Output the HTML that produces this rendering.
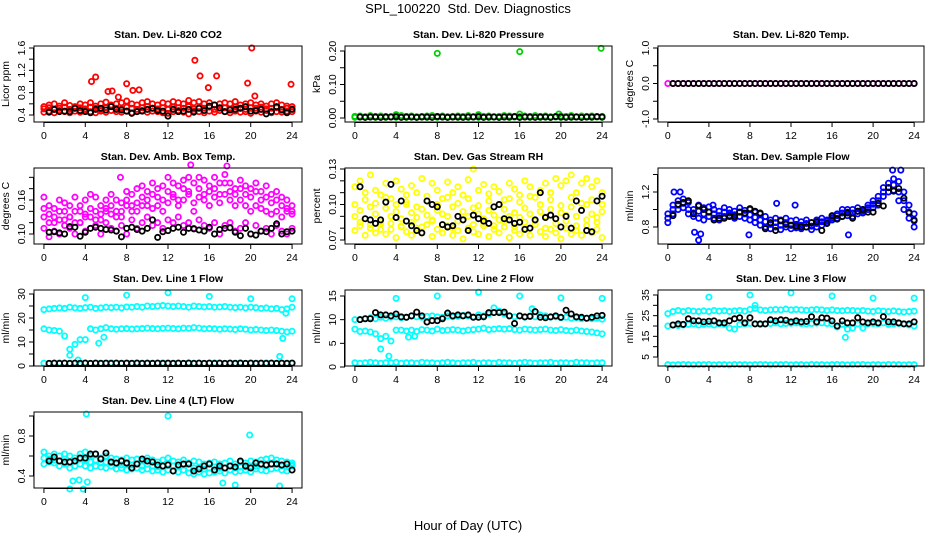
<!DOCTYPE html>
<html><head><meta charset="utf-8"><title>SPL_100220 Std. Dev. Diagnostics</title>
<style>
html,body{margin:0;padding:0;background:#fff;}
svg{display:block;font-family:"Liberation Sans",Arial,sans-serif;}
.pt{fill:none;stroke-width:1.8;}
.ttl{font-weight:bold;font-size:10.5px;}
.tk{font-size:10.5px;}
</style></head>
<body>
<svg id="chart" width="936" height="540" viewBox="0 0 936 540" xmlns="http://www.w3.org/2000/svg">
<text x="468" y="13" text-anchor="middle" font-size="13" xml:space="preserve">SPL_100220  Std. Dev. Diagnostics</text>
<text x="468" y="530" text-anchor="middle" font-size="13">Hour of Day (UTC)</text>
</svg>
<script>
// ---- data (hours on 0.5 h grid; bands at 0..24, black at 0.5..24) ----
const xTicks=[0,4,8,12,16,20,24];
const co2A=[0.55,0.58,0.6,0.56,0.62,0.57,0.55,0.6,0.58,0.62,0.56,0.6,0.63,0.58,0.6,0.62,0.65,0.6,0.58,0.62,0.64,0.6,0.58,0.62,0.6,0.64,0.62,0.6,0.66,0.62,0.64,0.6,0.62,0.58,0.6,0.62,0.6,0.64,0.58,0.6,0.62,0.58,0.6,0.56,0.6,0.62,0.58,0.56,0.55];
const co2B=[0.45,0.47,0.44,0.48,0.46,0.44,0.47,0.45,0.48,0.46,0.44,0.47,0.45,0.48,0.46,0.45,0.47,0.44,0.46,0.48,0.45,0.47,0.46,0.44,0.43,0.46,0.48,0.45,0.42,0.47,0.46,0.44,0.47,0.45,0.48,0.46,0.44,0.47,0.45,0.46,0.43,0.47,0.45,0.48,0.44,0.46,0.45,0.47,0.46];
const co2C=[0.51,0.53,0.5,0.52,0.54,0.5,0.52,0.53,0.51,0.54,0.52,0.5,0.53,0.55,0.52,0.51,0.54,0.52,0.5,0.53,0.55,0.52,0.51,0.53,0.5,0.54,0.53,0.52,0.55,0.51,0.53,0.52,0.54,0.5,0.52,0.53,0.51,0.54,0.52,0.5,0.53,0.52,0.54,0.51,0.52,0.53,0.5,0.52,0.51];
const co2OutH=[4.6,5.0,6.2,6.6,7.2,8.0,8.6,9.2,14.6,15.1,15.9,16.7,19.7,20.1,20.4,23.9];
const co2OutV=[1.0,1.08,0.82,0.83,0.72,0.96,0.84,0.85,1.38,1.1,0.89,1.1,0.97,1.6,0.74,0.95];
const co2Black=[0.45,0.5,0.46,0.47,0.46,0.52,0.48,0.46,0.44,0.5,0.52,0.49,0.55,0.5,0.49,0.47,0.43,0.46,0.47,0.5,0.52,0.48,0.47,0.38,0.5,0.46,0.47,0.5,0.45,0.52,0.48,0.56,0.58,0.53,0.46,0.49,0.5,0.52,0.55,0.47,0.48,0.5,0.42,0.46,0.55,0.49,0.44,0.5];

const presA=[0.005,0.006,0.004,0.007,0.005,0.006,0.005,0.004,0.006,0.007,0.005,0.006,0.004,0.005,0.006,0.007,0.005,0.006,0.004,0.005,0.006,0.005,0.007,0.004,0.006,0.005,0.006,0.004,0.005,0.007,0.006,0.005,0.004,0.006,0.005,0.007,0.005,0.006,0.004,0.005,0.006,0.005,0.007,0.004,0.006,0.005,0.006,0.004,0.005];
const presB=[0.002,0.003,0.002,0.003,0.002,0.003,0.002,0.003,0.002,0.003,0.002,0.003,0.002,0.003,0.002,0.003,0.002,0.003,0.002,0.003,0.002,0.003,0.002,0.003,0.002,0.003,0.002,0.003,0.002,0.003,0.002,0.003,0.002,0.003,0.002,0.003,0.002,0.003,0.002,0.003,0.002,0.003,0.002,0.003,0.002,0.003,0.002,0.003,0.002];
const presOutH=[8.0,16.0,23.9,4.0,12.0,16.0,19.8];
const presOutV=[0.193,0.198,0.208,0.01,0.01,0.012,0.012];
const presBlack=[0.003,0.002,0.003,0.003,0.002,0.003,0.003,0.004,0.002,0.003,0.003,0.002,0.003,0.003,0.002,0.004,0.003,0.002,0.003,0.003,0.002,0.003,0.003,0.004,0.002,0.003,0.003,0.002,0.003,0.003,0.004,0.002,0.003,0.003,0.002,0.003,0.003,0.002,0.004,0.003,0.002,0.003,0.003,0.002,0.003,0.003,0.004,0.003];

const tempA=[0,0,0,0,0,0,0,0,0,0,0,0,0,0,0,0,0,0,0,0,0,0,0,0,0,0,0,0,0,0,0,0,0,0,0,0,0,0,0,0,0,0,0,0,0,0,0,0,0];
const tempBlack=[0,0,0,0,0,0,0,0,0,0,0,0,0,0,0,0,0,0,0,0,0,0,0,0,0,0,0,0,0,0,0,0,0,0,0,0,0,0,0,0,0,0,0,0,0,0,0,0];

const ambA=[0.165,0.15,0.145,0.16,0.155,0.15,0.165,0.14,0.16,0.17,0.165,0.15,0.16,0.17,0.16,0.155,0.175,0.17,0.18,0.185,0.175,0.19,0.18,0.185,0.2,0.19,0.185,0.195,0.2,0.19,0.2,0.195,0.185,0.2,0.19,0.205,0.19,0.18,0.195,0.185,0.18,0.19,0.175,0.185,0.17,0.175,0.165,0.16,0.15];
const ambB=[0.13,0.135,0.12,0.14,0.125,0.13,0.14,0.12,0.135,0.13,0.14,0.125,0.145,0.135,0.14,0.13,0.15,0.14,0.155,0.15,0.16,0.145,0.15,0.16,0.155,0.165,0.15,0.16,0.17,0.155,0.165,0.16,0.15,0.165,0.155,0.17,0.16,0.15,0.16,0.15,0.14,0.15,0.145,0.14,0.135,0.14,0.13,0.14,0.135];
const ambC=[0.11,0.095,0.105,0.1,0.115,0.11,0.1,0.12,0.105,0.11,0.115,0.1,0.12,0.11,0.105,0.115,0.1,0.125,0.11,0.12,0.13,0.115,0.12,0.11,0.125,0.12,0.13,0.115,0.12,0.11,0.125,0.115,0.11,0.12,0.1,0.115,0.12,0.105,0.11,0.12,0.1,0.115,0.105,0.11,0.1,0.115,0.105,0.1,0.11];
const ambD=[0.145,0.12,0.13,0.125,0.14,0.13,0.12,0.15,0.13,0.145,0.125,0.135,0.14,0.15,0.13,0.14,0.16,0.15,0.14,0.165,0.15,0.17,0.165,0.14,0.175,0.17,0.16,0.18,0.175,0.14,0.18,0.17,0.175,0.18,0.17,0.19,0.175,0.17,0.18,0.17,0.165,0.175,0.16,0.165,0.155,0.16,0.15,0.145,0.14];
const ambOutH=[7.4,14.2,17.7];
const ambOutV=[0.2,0.222,0.22];
const ambBlack=[0.103,0.104,0.102,0.1,0.113,0.112,0.096,0.103,0.11,0.112,0.11,0.108,0.107,0.105,0.095,0.11,0.112,0.108,0.105,0.11,0.125,0.094,0.104,0.106,0.11,0.112,0.103,0.11,0.109,0.107,0.105,0.112,0.1,0.108,0.11,0.111,0.103,0.097,0.11,0.1,0.098,0.105,0.104,0.11,0.118,0.1,0.104,0.105];

const rhA=[0.115,0.12,0.11,0.125,0.112,0.108,0.118,0.105,0.12,0.113,0.102,0.116,0.11,0.122,0.107,0.118,0.112,0.105,0.119,0.11,0.115,0.108,0.121,0.13,0.112,0.117,0.109,0.115,0.111,0.104,0.118,0.113,0.108,0.12,0.115,0.106,0.112,0.118,0.11,0.122,0.116,0.12,0.125,0.11,0.118,0.122,0.115,0.12,0.11];
const rhB=[0.09,0.095,0.088,0.098,0.092,0.085,0.097,0.09,0.094,0.088,0.1,0.093,0.089,0.096,0.091,0.087,0.095,0.092,0.09,0.098,0.086,0.094,0.09,0.097,0.092,0.088,0.095,0.091,0.087,0.096,0.09,0.093,0.089,0.097,0.092,0.086,0.094,0.09,0.096,0.088,0.093,0.091,0.098,0.09,0.095,0.1,0.092,0.089,0.094];
const rhC=[0.078,0.082,0.074,0.08,0.076,0.083,0.075,0.079,0.072,0.081,0.077,0.074,0.08,0.076,0.083,0.073,0.079,0.076,0.082,0.074,0.078,0.071,0.08,0.077,0.075,0.082,0.073,0.079,0.076,0.081,0.072,0.078,0.075,0.08,0.074,0.083,0.077,0.073,0.079,0.076,0.071,0.08,0.075,0.078,0.074,0.082,0.076,0.079,0.072];
const rhD=[0.1,0.085,0.104,0.083,0.101,0.079,0.106,0.084,0.1,0.082,0.108,0.085,0.098,0.081,0.103,0.086,0.1,0.083,0.106,0.08,0.101,0.087,0.105,0.083,0.099,0.084,0.103,0.082,0.1,0.086,0.105,0.081,0.102,0.085,0.107,0.083,0.1,0.08,0.104,0.084,0.099,0.086,0.106,0.082,0.101,0.087,0.104,0.085,0.1];
const rhBlack=[0.115,0.088,0.087,0.084,0.087,0.102,0.117,0.089,0.103,0.086,0.082,0.078,0.076,0.103,0.1,0.098,0.083,0.081,0.082,0.09,0.087,0.078,0.091,0.088,0.086,0.084,0.098,0.1,0.088,0.087,0.084,0.085,0.079,0.08,0.087,0.11,0.089,0.091,0.088,0.081,0.09,0.08,0.103,0.095,0.078,0.077,0.103,0.107];

const sfA=[0.95,1.05,1.1,1.12,1.08,1.0,1.05,1.02,1.03,1.0,0.98,1.02,1.0,0.98,1.02,0.99,1.0,0.97,0.95,0.92,0.88,0.9,0.88,0.9,0.87,0.88,0.86,0.88,0.85,0.88,0.9,0.88,0.92,0.95,1.0,1.0,1.0,1.02,1.0,1.05,1.1,1.15,1.25,1.3,1.35,1.32,1.2,1.05,0.95];
const sfB=[0.85,0.95,1.0,1.02,0.95,0.92,0.9,0.88,0.92,0.9,0.88,0.92,0.93,0.9,0.92,0.9,0.88,0.85,0.82,0.8,0.78,0.8,0.77,0.8,0.78,0.79,0.78,0.8,0.77,0.8,0.82,0.85,0.88,0.9,0.92,0.93,0.92,0.95,0.96,1.0,1.02,1.05,1.15,1.2,1.22,1.1,1.0,0.9,0.8];
const sfC=[0.9,1.0,1.05,1.07,1.0,0.96,0.98,0.95,0.97,0.95,0.93,0.97,0.96,0.94,0.97,0.95,0.94,0.91,0.88,0.86,0.83,0.85,0.82,0.85,0.82,0.83,0.82,0.84,0.81,0.84,0.86,0.87,0.9,0.93,0.96,0.97,0.96,0.98,0.98,1.02,1.06,1.1,1.2,1.25,1.28,1.2,1.1,0.97,0.87];
const sfOutH=[0.6,1.2,2.6,3.2,4.4,7.9,10.6,12.4,17.6,21.9,22.7,3.0];
const sfOutV=[1.2,1.2,0.74,0.72,1.05,0.71,1.07,1.05,0.71,1.45,1.45,0.65];
const sfBlack=[0.93,1.06,1.08,1.1,0.95,1.04,1.0,0.97,0.88,0.9,0.9,0.92,0.92,0.97,0.96,1.01,0.98,0.96,0.78,0.85,0.76,0.87,0.83,0.82,0.81,0.8,0.8,0.85,0.86,0.76,0.84,0.93,0.89,0.92,0.96,0.9,0.98,1.0,0.97,0.97,1.07,1.04,1.25,1.21,1.24,1.13,0.96,0.88];

const l1A=[23.5,23.8,24,24.2,24,24.5,24.2,24,24.3,24.5,24,24.2,24.5,24.3,24.5,24.2,24.6,24.5,24.8,24.5,25,24.8,25,25.2,25,24.8,25,24.8,24.5,25,24.8,24.6,24.8,24.5,24.6,24.8,24.5,24.3,24.5,24.2,24.5,24.3,24,24.2,23.8,24,23.5,23.8,24.5];
const l1B=[15.5,15,14.8,14.5,12.5,7,9,11,11,15.5,15,15.5,16,15.5,15.3,15.5,15.6,15.4,15.5,15.6,15.8,15.6,15.5,15.7,15.8,15.6,15.5,15.8,15.7,16,15.8,15.5,15.6,15.5,15.3,15.5,15.4,15.2,15.5,15.3,15,15.2,15,14.8,15,14.8,14.5,14.2,14.5];
const l1C=[1.2,1.1,1.2,1.3,1.2,1.1,1.2,1.2,1.3,1.1,1.2,1.2,1.1,1.3,1.2,1.2,1.1,1.2,1.3,1.2,1.1,1.2,1.2,1.3,1.1,1.2,1.2,1.1,1.3,1.2,1.2,1.1,1.2,1.3,1.2,1.1,1.2,1.2,1.3,1.1,1.2,1.2,1.1,1.3,1.2,1.2,1.1,1.2,1.2];
const l1OutH=[4.0,8.0,12.0,16.0,20.0,24.0,2.5,3.3,22.8,5.3,5.8,23.4,23.1];
const l1OutV=[28.5,29.5,30.5,29,28,28,4.5,2.5,4,9.5,12,22,11.5];
const l1Black=[1.1,1.2,1.1,1.2,1.1,1.2,1.1,1.2,1.1,1.2,1.1,1.2,1.1,1.2,1.1,1.2,1.1,1.2,1.1,1.2,1.1,1.2,1.1,1.2,1.1,1.2,1.1,1.2,1.1,1.2,1.1,1.2,1.1,1.2,1.1,1.2,1.1,1.2,1.1,1.2,1.1,1.2,1.1,1.2,1.1,1.2,1.1,1.2];

const l2A=[10,10,10.2,10.4,10.2,10.5,10.3,10.5,10.6,10.4,10.5,10.8,10.6,10.5,10.7,10.8,10.6,10.5,10.8,10.6,10.7,10.9,10.8,10.6,11,10.8,11.2,11.5,11.8,11.2,10.8,10.6,10.8,10.5,10.8,10.6,11,10.8,10.5,10.6,10.4,10.5,10.3,10.4,10.2,10.3,10.2,10.3,10.1];
const l2B=[8,7.5,7.6,7.4,7,6,6.5,5.5,7.8,7.8,7.6,7.8,7.5,7.9,7.8,7.6,8,7.7,7.8,7.9,7.8,7.6,7.8,7.9,8,8.2,7.9,8,8.1,8,8.1,7.9,7.8,8,7.9,7.8,7.9,8,7.8,7.7,7.9,7.7,7.6,7.8,7.6,7.5,7.4,7.2,7];
const l2C=[0.9,0.8,0.9,1.0,0.9,0.8,0.9,0.9,1.0,0.8,0.9,0.9,0.8,1.0,0.9,0.9,0.8,0.9,1.0,0.9,0.8,0.9,0.9,1.0,0.8,0.9,0.9,0.8,1.0,0.9,0.9,0.8,0.9,1.0,0.9,0.8,0.9,0.9,1.0,0.8,0.9,0.9,0.8,1.0,0.9,0.9,0.8,0.9,0.9];
const l2OutH=[4.0,8.0,12.0,16.0,20.0,24.0,2.5,3.3,5.2,5.8,13.5,17.2];
const l2OutV=[14.5,15,15.8,15,14.6,14.5,3.8,2.3,6.3,6.5,12.5,12.3];
const l2Black=[10,10.2,10.2,11.5,11,11,10.8,11.2,10.6,10.5,10.8,11.6,10.8,9.5,9.8,9.8,10.2,11.4,10.8,11,10.8,11,10.5,10.5,10.6,11.5,11.5,11.5,11.6,10.8,9.2,10.8,10.6,10.7,11.7,10.5,10.4,10.6,10.8,10.5,12,11.2,10.6,10.5,10.3,10.5,10.8,10.9];

const l3A=[26,27,27.5,27,27.5,27.2,27,27.3,27,27.5,27.2,27.4,27,27.3,27.5,27.2,28,28.5,27.8,27.5,27.8,28,27.8,28.2,27.8,28,27.8,27.6,27.8,28,27.8,27.5,27.8,27.5,27.4,27.6,27.5,27.3,27.5,27.2,27,27.4,27.2,27,27.3,27,26.8,27,27.2];
const l3B=[20,20.5,20.2,20.5,20.8,21,20.5,20.8,21,20.5,21,20.8,19,18.5,20.8,21,21.2,21,20.8,21,21.2,21.5,21,21.2,21.3,21.5,21.2,21,21.2,21.4,21.5,21.2,21,19.5,20.8,18.5,19,21,19,21,21.2,21,21.5,20.8,21,21.2,21,20.5,20];
const l3C=[1.3,1.2,1.3,1.4,1.3,1.2,1.3,1.3,1.4,1.2,1.3,1.3,1.2,1.4,1.3,1.3,1.2,1.3,1.4,1.3,1.2,1.3,1.3,1.4,1.2,1.3,1.3,1.2,1.4,1.3,1.3,1.2,1.3,1.4,1.3,1.2,1.3,1.3,1.4,1.2,1.3,1.3,1.2,1.4,1.3,1.3,1.2,1.3,1.3];
const l3OutH=[4.0,8.0,12.0,16.0,20.0,24.0,17.3,8.5];
const l3OutV=[34,35,36,34.5,33.5,33.5,14.5,30];
const l3Black=[20.5,21,20.8,23.5,22.5,22.5,22,22.3,22.5,21.5,21.5,22.5,23.5,24,21.5,24,21,21,21,23,22.5,23,22.8,22,22.5,22,22.2,24.5,22,24,23.8,22.5,20,22.5,21.5,21.5,24,22,21.5,22,21.5,24.5,22,22,21.5,21,21,22];

const l4A=[0.64,0.6,0.62,0.6,0.62,0.6,0.58,0.62,0.64,0.6,0.62,0.58,0.6,0.58,0.57,0.56,0.58,0.56,0.57,0.55,0.58,0.56,0.54,0.56,0.58,0.55,0.54,0.56,0.53,0.55,0.54,0.52,0.53,0.54,0.52,0.53,0.55,0.52,0.54,0.53,0.55,0.54,0.56,0.57,0.58,0.56,0.55,0.54,0.53];
const l4B=[0.52,0.54,0.53,0.5,0.52,0.48,0.5,0.52,0.5,0.48,0.5,0.49,0.48,0.5,0.47,0.48,0.46,0.47,0.48,0.46,0.47,0.45,0.46,0.44,0.46,0.45,0.44,0.46,0.43,0.42,0.44,0.42,0.43,0.44,0.45,0.43,0.46,0.44,0.45,0.46,0.44,0.47,0.46,0.45,0.47,0.48,0.46,0.45,0.5];
const l4C=[0.58,0.57,0.56,0.55,0.57,0.54,0.55,0.57,0.56,0.54,0.56,0.53,0.54,0.53,0.52,0.51,0.52,0.51,0.52,0.5,0.52,0.5,0.49,0.5,0.52,0.5,0.49,0.51,0.48,0.48,0.49,0.47,0.48,0.49,0.48,0.48,0.5,0.48,0.49,0.49,0.5,0.5,0.51,0.51,0.52,0.52,0.5,0.49,0.51];
const l4OutH=[4.1,12.0,19.9,2.5,3.8,2.8,3.4,4.2,22.8,18.5,17.3];
const l4OutV=[1.02,1.0,0.81,0.27,0.27,0.35,0.36,0.34,0.3,0.31,0.33];
const l4Black=[0.55,0.59,0.55,0.54,0.54,0.55,0.58,0.58,0.62,0.62,0.57,0.63,0.54,0.53,0.55,0.53,0.48,0.52,0.57,0.55,0.54,0.51,0.5,0.51,0.45,0.51,0.52,0.52,0.45,0.47,0.5,0.52,0.46,0.5,0.48,0.5,0.49,0.55,0.5,0.48,0.53,0.52,0.51,0.52,0.52,0.51,0.52,0.46];

// ---- layout ----
const NS="http://www.w3.org/2000/svg";
const svg=document.getElementById('chart');
const colL=[34,345,658], colW=[268,267,266];
const rowT=[46,168,290,412], H=76;
const R=2.6;
function mk(tag,attrs,parent){const e=document.createElementNS(NS,tag);for(const k in attrs)e.setAttribute(k,attrs[k]);(parent||svg).appendChild(e);return e;}

const panels=[
 {name:'co2',title:'Stan. Dev. Li-820 CO2',ylab:'Licor ppm',c:0,r:0,ref:[0.4,115,1.6,48],ticks:[0.4,0.6,0.8,1.0,1.2,1.4,1.6],labels:[0.4,0.8,1.2,1.6],dec:1,col:'#ff0000',bands:[co2A,co2B,co2C],oh:co2OutH,ov:co2OutV,black:co2Black},
 {name:'pressure',title:'Stan. Dev. Li-820 Pressure',ylab:'kPa',c:1,r:0,ref:[0,118,0.2,51],ticks:[0,0.05,0.1,0.15,0.2],labels:[0,0.1,0.2],dec:2,col:'#00d000',bands:[presA,presB],oh:presOutH,ov:presOutV,black:presBlack},
 {name:'temp',title:'Stan. Dev. Li-820 Temp.',ylab:'degrees C',c:2,r:0,ref:[-1,119,1,48],ticks:[-1,-0.5,0,0.5,1],labels:[-1,0,1],dec:1,col:'#ff00ff',bands:[tempA],oh:[],ov:[],black:tempBlack},
 {name:'amb-box-temp',title:'Stan. Dev. Amb. Box Temp.',ylab:'degrees C',c:0,r:1,ref:[0.1,234,0.16,200],ticks:[0.1,0.12,0.14,0.16,0.18,0.2],labels:[0.1,0.16],dec:2,col:'#ff00ff',bands:[ambA,ambB,ambC,ambD],oh:ambOutH,ov:ambOutV,black:ambBlack},
 {name:'gas-stream-rh',title:'Stan. Dev. Gas Stream RH',ylab:'percent',c:1,r:1,ref:[0.07,240,0.13,169],ticks:[0.07,0.08,0.09,0.1,0.11,0.12,0.13],labels:[0.07,0.1,0.13],dec:2,col:'#ffff00',bands:[rhA,rhB,rhC,rhD],oh:[],ov:[],black:rhBlack},
 {name:'sample-flow',title:'Stan. Dev. Sample Flow',ylab:'ml/min',c:2,r:1,ref:[0.8,227,1.2,192],ticks:[0.8,1.0,1.2,1.4],labels:[0.8,1.2],dec:1,col:'#0000ff',bands:[sfA,sfB,sfC],oh:sfOutH,ov:sfOutV,black:sfBlack},
 {name:'line1-flow',title:'Stan. Dev. Line 1 Flow',ylab:'ml/min',c:0,r:2,ref:[0,366,30,294],ticks:[0,5,10,15,20,25,30],labels:[0,10,20,30],dec:0,col:'#00ffff',bands:[l1A,l1B,l1C],oh:l1OutH,ov:l1OutV,black:l1Black},
 {name:'line2-flow',title:'Stan. Dev. Line 2 Flow',ylab:'ml/min',c:1,r:2,ref:[0,367,15,296],ticks:[0,5,10,15],labels:[0,5,10,15],dec:0,col:'#00ffff',bands:[l2A,l2B,l2C],oh:l2OutH,ov:l2OutV,black:l2Black},
 {name:'line3-flow',title:'Stan. Dev. Line 3 Flow',ylab:'ml/min',c:2,r:2,ref:[5,357,35,295],ticks:[5,10,15,20,25,30,35],labels:[5,15,25,35],dec:0,col:'#00ffff',bands:[l3A,l3B,l3C],oh:l3OutH,ov:l3OutV,black:l3Black},
 {name:'line4-flow',title:'Stan. Dev. Line 4 (LT) Flow',ylab:'ml/min',c:0,r:3,ref:[0.4,476,0.8,436],ticks:[0.4,0.6,0.8,1.0],labels:[0.4,0.8],dec:1,col:'#00ffff',bands:[l4A,l4B,l4C],oh:l4OutH,ov:l4OutV,black:l4Black}
];

panels.forEach(p=>{
  const L=colL[p.c], W=colW[p.c], T=rowT[p.r], B=T+H;
  const xs=h=>L+(h+0.96)/25.92*W;
  const ys=v=>p.ref[1]+(v-p.ref[0])*(p.ref[3]-p.ref[1])/(p.ref[2]-p.ref[0]);
  const g=mk('g',{});
  
  
  const t=mk('text',{x:L+W/2,y:T-8,'text-anchor':'middle','class':'ttl'},g);
  
  
  t.textContent=p.title;
  const pg=mk('g',{},g);
  
  
  p.bands.forEach(arr=>arr.forEach((v,i)=>{
    const c=mk('circle',{cx:xs(i*0.5),cy:ys(v),r:R,'class':'pt',stroke:p.col},pg);
    
    
  }));
  p.oh.forEach((h,i)=>{
    const c=mk('circle',{cx:xs(h),cy:ys(p.ov[i]),r:R,'class':'pt',stroke:p.col},pg);
    
    
  });
  p.black.forEach((v,i)=>{
    const c=mk('circle',{cx:xs(0.5+i*0.5),cy:ys(v),r:R,'class':'pt',stroke:'#000'},pg);
    
    
  });
  const bx=mk('rect',{x:L,y:T,width:W,height:H,fill:'none',stroke:'#000','stroke-width':1},g);
  
  
  const xa=mk('g',{},g);
  
  
  mk('line',{x1:xs(0),x2:xs(24),y1:B+0.5,y2:B+0.5,stroke:'#000'},xa);
  xTicks.forEach(v=>{
    mk('line',{x1:xs(v),x2:xs(v),y1:B,y2:B+5,stroke:'#000'},xa);
    const tx=mk('text',{x:xs(v),y:B+17,'text-anchor':'middle','class':'tk'},xa);
    
    
    tx.textContent=v;
  });
  const ya=mk('g',{},g);
  
  
  const t0=p.ticks[0], t1=p.ticks[p.ticks.length-1];
  mk('line',{x1:L-0.5,x2:L-0.5,y1:ys(t0),y2:ys(t1),stroke:'#000'},ya);
  p.ticks.forEach(v=>mk('line',{x1:L-5,x2:L,y1:ys(v),y2:ys(v),stroke:'#000'},ya));
  p.labels.forEach(v=>{
    const yy=ys(v), xx=L-9;
    const tx=mk('text',{x:xx,y:yy,'text-anchor':'middle','class':'tk',transform:`rotate(-90 ${xx} ${yy})`},ya);
    
    
    tx.textContent=v.toFixed(p.dec);
  });
  const yc=T+H/2, xl=L-25;
  const yl=mk('text',{x:xl,y:yc,'text-anchor':'middle','class':'tk',transform:`rotate(-90 ${xl} ${yc})`},g);
  
  
  yl.textContent=p.ylab;
});
</script>
</body></html>
